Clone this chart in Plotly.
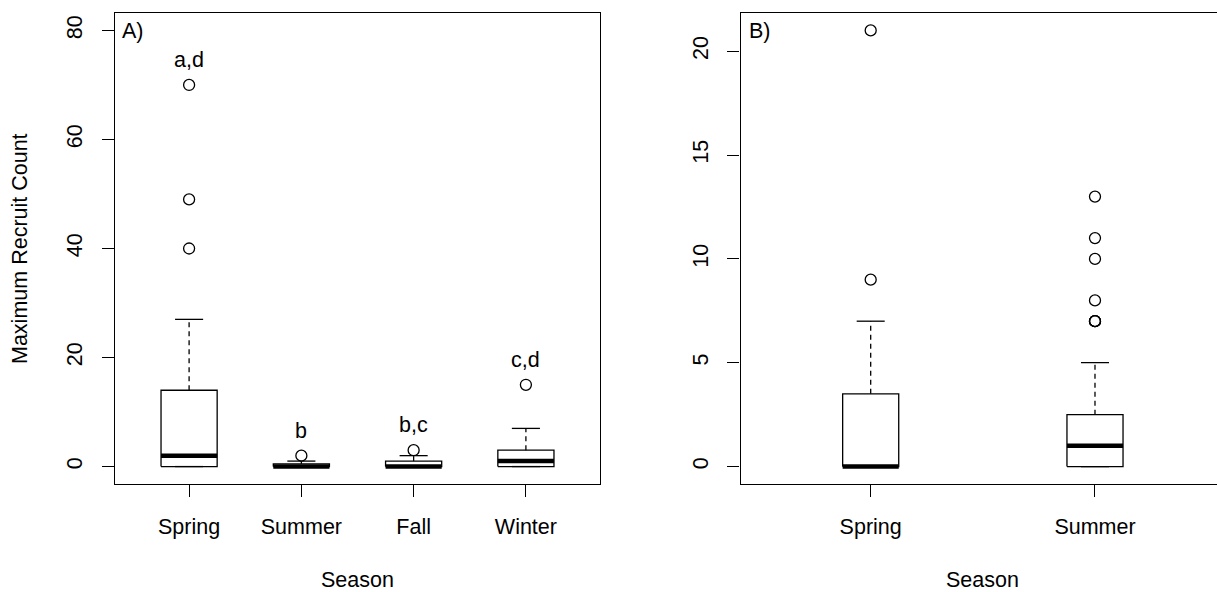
import plotly.graph_objects as go

# ---------------- data ----------------
cats_a = ["Spring", "Summer", "Fall", "Winter"]
a_lower = [0, 0, 0, 0]
a_q1 = [0, 0, 0, 0]
a_median = [2, 0, 0, 1]
a_q3 = [14, 0.5, 1, 3]
a_upper = [27, 1, 2, 7]
a_outliers = [[40, 49, 70], [2], [3], [15]]
a_letters = ["a,d", "b", "b,c", "c,d"]
a_yticks = [0, 20, 40, 60, 80]

cats_b = ["Spring", "Summer"]
b_lower = [0, 0]
b_q1 = [0, 0]
b_median = [0, 1]
b_q3 = [3.5, 2.5]
b_upper = [7, 5]
b_outliers = [[9, 21], [7, 7, 7, 8, 10, 11, 13]]
b_yticks = [0, 5, 10, 15, 20]

# ---------------- layout constants ----------------
W, H = 1217, 592
FONT = "Liberation Sans, Arial, Helvetica, sans-serif"
FS = 21.5
plot_top, plot_bot = 13, 484
ax_a = (115, 600)
ax_b = (740.6, W)

fig = go.Figure()


def draw_boxes(xa, ya, lower, q1, med, q3, upper, outliers, half, cap):
    for i in range(len(med)):
        c = i + 1
        # box
        fig.add_trace(go.Scatter(
            x=[c - half, c + half, c + half, c - half, c - half],
            y=[q1[i], q1[i], q3[i], q3[i], q1[i]],
            mode="lines", line=dict(color="black", width=1.3),
            xaxis=xa, yaxis=ya, showlegend=False, hoverinfo="skip"))
        # whiskers (dashed)
        for a, b in ((q3[i], upper[i]), (q1[i], lower[i])):
            if a != b:
                fig.add_trace(go.Scatter(
                    x=[c, c], y=[a, b], mode="lines",
                    line=dict(color="black", width=1.3, dash="5px,4px"),
                    xaxis=xa, yaxis=ya, showlegend=False, hoverinfo="skip"))
        # caps
        for v in (upper[i], lower[i]):
            fig.add_trace(go.Scatter(
                x=[c - cap, c + cap], y=[v, v], mode="lines",
                line=dict(color="black", width=1.3),
                xaxis=xa, yaxis=ya, showlegend=False, hoverinfo="skip"))
        # median
        fig.add_trace(go.Scatter(
            x=[c - half, c + half], y=[med[i], med[i]], mode="lines",
            line=dict(color="black", width=4.5),
            xaxis=xa, yaxis=ya, showlegend=False, hoverinfo="skip"))
        # outliers
        if outliers[i]:
            fig.add_trace(go.Scatter(
                x=[c] * len(outliers[i]), y=outliers[i], mode="markers",
                marker=dict(symbol="circle-open", size=11, color="black",
                            line=dict(width=1.3, color="black")),
                xaxis=xa, yaxis=ya, showlegend=False, hoverinfo="skip"))


draw_boxes("x", "y", a_lower, a_q1, a_median, a_q3, a_upper, a_outliers, 0.25, 0.125)
draw_boxes("x2", "y2", b_lower, b_q1, b_median, b_q3, b_upper, b_outliers, 0.125, 0.0625)

annotations = []
# significance letters above panel A groups
for i, lab in enumerate(a_letters):
    top = max([a_upper[i]] + a_outliers[i])
    annotations.append(dict(x=i + 1, y=top + 4.6, xref="x", yref="y", text=lab,
                            showarrow=False, yanchor="middle", xanchor="center",
                            font=dict(family=FONT, size=FS, color="black")))
# panel tags
annotations.append(dict(x=120 / W, y=(H - 31) / H, xref="paper", yref="paper", text="A)",
                        showarrow=False, xanchor="left", yanchor="middle",
                        font=dict(family=FONT, size=FS, color="black")))
annotations.append(dict(x=746.5 / W, y=(H - 31) / H, xref="paper", yref="paper", text="B)",
                        showarrow=False, xanchor="left", yanchor="middle",
                        font=dict(family=FONT, size=FS, color="black")))
# x titles
annotations.append(dict(x=2.5, xref="x", y=(H - 580) / H, yref="paper", text="Season",
                        showarrow=False, xanchor="center", yanchor="middle",
                        font=dict(family=FONT, size=FS, color="black")))
annotations.append(dict(x=1.5, xref="x2", y=(H - 580) / H, yref="paper", text="Season",
                        showarrow=False, xanchor="center", yanchor="middle",
                        font=dict(family=FONT, size=FS, color="black")))
# y title
annotations.append(dict(x=20.5 / W, y=(H - (plot_top + plot_bot) / 2) / H, xref="paper", yref="paper",
                        text="Maximum Recruit Count", textangle=-90,
                        showarrow=False, xanchor="center", yanchor="middle",
                        font=dict(family=FONT, size=FS, color="black")))

ydom = [(H - plot_bot) / H, (H - plot_top) / H]
common_axis = dict(showgrid=False, zeroline=False, showline=True, linecolor="black", linewidth=1.3,
                   ticks="outside", ticklen=12, tickwidth=1.3, tickcolor="black",
                   tickfont=dict(family=FONT, size=FS, color="black"))

fig.update_layout(
    width=W, height=H, margin=dict(l=0, r=0, t=0, b=0),
    paper_bgcolor="white", plot_bgcolor="white",
    font=dict(family=FONT, size=FS, color="black"),
    annotations=annotations,
    xaxis=dict(domain=[ax_a[0] / W, ax_a[1] / W], range=[0.34, 4.66],
               tickmode="array", tickvals=list(range(1, len(cats_a) + 1)), ticktext=cats_a,
               mirror=True, ticklabelstandoff=11, **common_axis),
    yaxis=dict(domain=ydom, range=[-3.2, 83.2], tickmode="array", tickvals=a_yticks,
               tickangle=-90, mirror=True, ticklabelstandoff=11, **common_axis),
    xaxis2=dict(domain=[ax_b[0] / W, 1.0], range=[0.42, 0.42 + (W - ax_b[0]) / 224.3],
                tickmode="array", tickvals=list(range(1, len(cats_b) + 1)), ticktext=cats_b,
                mirror=True, anchor="y2", ticklabelstandoff=11, **common_axis),
    yaxis2=dict(domain=ydom, range=[-0.84, 21.84], tickmode="array", tickvals=b_yticks,
                tickangle=-90, mirror=False, anchor="x2", ticklabelstandoff=11, **common_axis),
)

fig.write_html("out.html")
